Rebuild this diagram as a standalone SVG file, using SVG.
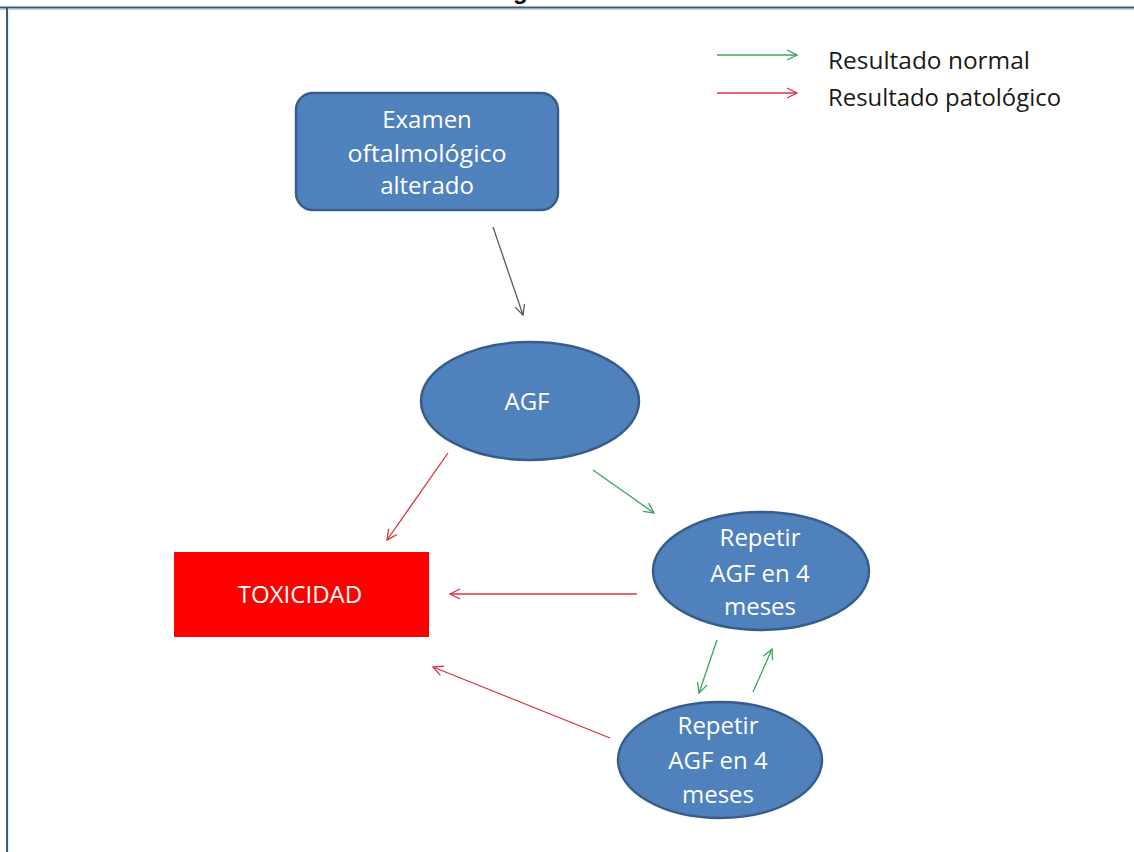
<svg xmlns="http://www.w3.org/2000/svg" width="1134" height="852" viewBox="0 0 1134 852">
<defs>
<marker id="ah-gray" viewBox="0 0 12 12" refX="11" refY="6" markerWidth="12" markerHeight="12" markerUnits="userSpaceOnUse" orient="auto"><path d="M1,1 L11,6 L1,11" fill="none" stroke="#5a5a5a" stroke-width="1.3"/></marker>
<marker id="ah-green" viewBox="0 0 12 12" refX="11" refY="6" markerWidth="12" markerHeight="12" markerUnits="userSpaceOnUse" orient="auto"><path d="M1,1 L11,6 L1,11" fill="none" stroke="#3aa65a" stroke-width="1.3"/></marker>
<marker id="ah-red" viewBox="0 0 12 12" refX="11" refY="6" markerWidth="12" markerHeight="12" markerUnits="userSpaceOnUse" orient="auto"><path d="M1,1 L11,6 L1,11" fill="none" stroke="#d8343f" stroke-width="1.3"/></marker>
<clipPath id="top-clip"><rect x="0" y="0" width="1134" height="7"/></clipPath>
</defs>
<style>
.node{fill:#4f81bd;stroke:#385d8a;stroke-width:2.5}
.lbl{font-family:"Open Sans","Liberation Sans",sans-serif;font-size:24px;fill:#ffffff;text-anchor:middle}
.leg{font-family:"Open Sans","Liberation Sans",sans-serif;font-size:23px;fill:#1a1a1a}
.c-gray{stroke:#5a5a5a;stroke-width:1.3;fill:none;marker-end:url(#ah-gray)}
.c-green{stroke:#3aa65a;stroke-width:1.3;fill:none;marker-end:url(#ah-green)}
.c-red{stroke:#d8343f;stroke-width:1.3;fill:none;marker-end:url(#ah-red)}
</style>
<rect x="0" y="0" width="1134" height="852" fill="#ffffff"/>
<text x="513" y="-1" clip-path="url(#top-clip)" font-family="Liberation Sans, sans-serif" font-weight="bold" font-size="24" fill="#000">g</text>
<g id="frame">
<line x1="0" y1="7.5" x2="1134" y2="7.5" stroke="#415a74" stroke-width="2"/>
<line x1="0" y1="9.5" x2="1134" y2="9.5" stroke="#b9cde0" stroke-width="1"/>
<line x1="7" y1="7" x2="7" y2="852" stroke="#415a74" stroke-width="2"/>
<line x1="9" y1="9" x2="9" y2="852" stroke="#d6e4f0" stroke-width="1"/>
</g>
<g id="legend">
<line class="c-green" x1="717" y1="55" x2="797" y2="55"/>
<line class="c-red" x1="717" y1="93" x2="797" y2="93"/>
<text class="leg" x="828" y="69" textLength="202" lengthAdjust="spacingAndGlyphs">Resultado normal</text>
<text class="leg" x="828" y="106" textLength="233" lengthAdjust="spacingAndGlyphs">Resultado patológico</text>
</g>
<g id="connectors">
<line class="c-gray" x1="493" y1="227" x2="523" y2="315"/>
<line class="c-red" x1="448" y1="453" x2="387" y2="540"/>
<line class="c-green" x1="593" y1="470" x2="654" y2="513"/>
<line class="c-red" x1="637" y1="594" x2="450" y2="594"/>
<line class="c-red" x1="610" y1="738" x2="433" y2="667"/>
<line class="c-green" x1="717" y1="640" x2="699" y2="693"/>
<line class="c-green" x1="753" y1="692" x2="772" y2="649"/>
</g>
<g id="examen">
<rect class="node" x="296" y="93" width="262" height="117" rx="17"/>
<text class="lbl" x="427" y="128">Examen</text>
<text class="lbl" x="427" y="162" textLength="159" lengthAdjust="spacingAndGlyphs">oftalmológico</text>
<text class="lbl" x="427" y="194">alterado</text>
</g>
<g id="agf">
<ellipse class="node" cx="530" cy="401" rx="109" ry="59"/>
<text class="lbl" x="527" y="410" font-size="23">AGF</text>
</g>
<g id="toxicidad">
<rect x="174" y="552" width="255" height="85" fill="#ff0000"/>
<text class="lbl" x="300" y="603">TOXICIDAD</text>
</g>
<g id="repetir1">
<ellipse class="node" cx="761" cy="571" rx="108" ry="59"/>
<text class="lbl" x="760" y="546">Repetir</text>
<text class="lbl" x="760" y="582">AGF en 4</text>
<text class="lbl" x="760" y="615">meses</text>
</g>
<g id="repetir2">
<ellipse class="node" cx="720" cy="760" rx="102" ry="58"/>
<text class="lbl" x="718" y="734">Repetir</text>
<text class="lbl" x="718" y="769">AGF en 4</text>
<text class="lbl" x="718" y="803">meses</text>
</g>
</svg>
